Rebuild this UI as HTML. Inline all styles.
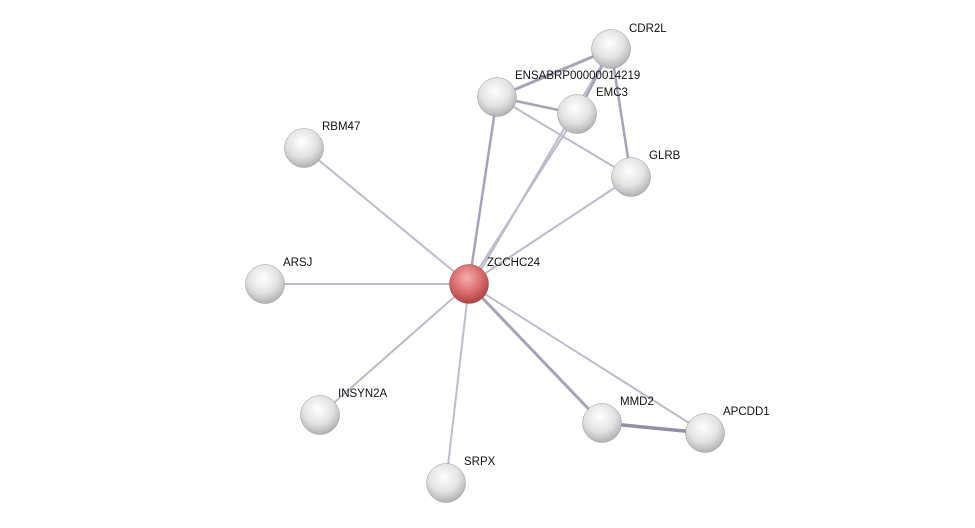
<!DOCTYPE html>
<html><head><meta charset="utf-8"><style>
html,body{margin:0;padding:0;background:#fff;}
svg{display:block}
text{font-family:"Liberation Sans",sans-serif;font-size:11.5px;fill:#111;}
</style></head><body>
<svg width="975" height="528" viewBox="0 0 975 528">
<defs>
<radialGradient id="g" cx="0.45" cy="0.35" r="0.7">
<stop offset="0" stop-color="#ffffff"/><stop offset="0.55" stop-color="#e2e2e2"/><stop offset="1" stop-color="#a8a8a8"/>
</radialGradient>
<radialGradient id="r" cx="0.45" cy="0.35" r="0.7">
<stop offset="0" stop-color="#f4b0b0"/><stop offset="0.55" stop-color="#d96a6a"/><stop offset="1" stop-color="#a53a3a"/>
</radialGradient>
</defs>
<g stroke="#bcbcca" stroke-width="2" fill="none">
<line x1="469" y1="284" x2="304" y2="148"/>
<line x1="469" y1="284" x2="265" y2="284"/>
<line x1="469" y1="284" x2="320" y2="415"/>
<line x1="469" y1="284" x2="446" y2="483"/>
<line x1="469" y1="284" x2="705" y2="433"/>
<line x1="469" y1="284" x2="631" y2="177"/>
<line x1="469" y1="284" x2="577" y2="114"/>
<line x1="472" y1="285" x2="611" y2="49"/>
<line x1="469" y1="284" x2="602" y2="423" stroke="#a4a4b8" stroke-width="3"/>
<line x1="469" y1="284" x2="497" y2="97" stroke="#a4a4b8" stroke-width="2.5"/>
<line x1="497" y1="97" x2="611" y2="49" stroke="#a4a4b8" stroke-width="3"/>
<line x1="497" y1="97" x2="577" y2="114" stroke="#a4a4b8" stroke-width="2.5"/>
<line x1="497" y1="97" x2="631" y2="177"/>
<line x1="611" y1="49" x2="631" y2="177" stroke="#a4a4b8" stroke-width="2.5"/>
<line x1="611" y1="49" x2="577" y2="114" stroke="#a4a4b8" stroke-width="2.5"/>
<line x1="602" y1="423" x2="705" y2="433" stroke="#9090a8" stroke-width="3.5"/>
</g>
<g>
<circle cx="611" cy="49" r="19.5" fill="url(#g)" stroke="#999" stroke-width="0.5"/>
<circle cx="497" cy="97" r="19.5" fill="url(#g)" stroke="#999" stroke-width="0.5"/>
<circle cx="577" cy="114" r="19.5" fill="url(#g)" stroke="#999" stroke-width="0.5"/>
<circle cx="631" cy="177" r="19.5" fill="url(#g)" stroke="#999" stroke-width="0.5"/>
<circle cx="304" cy="148" r="19.5" fill="url(#g)" stroke="#999" stroke-width="0.5"/>
<circle cx="265" cy="284" r="19.5" fill="url(#g)" stroke="#999" stroke-width="0.5"/>
<circle cx="320" cy="415" r="19.5" fill="url(#g)" stroke="#999" stroke-width="0.5"/>
<circle cx="446" cy="483" r="19.5" fill="url(#g)" stroke="#999" stroke-width="0.5"/>
<circle cx="602" cy="423" r="19.5" fill="url(#g)" stroke="#999" stroke-width="0.5"/>
<circle cx="705" cy="433" r="19.5" fill="url(#g)" stroke="#999" stroke-width="0.5"/>
<circle cx="469" cy="284" r="19.5" fill="url(#r)" stroke="#944" stroke-width="0.5"/>
</g>
<text x="629" y="32">CDR2L</text>
<text x="515" y="79">ENSABRP00000014219</text>
<text x="596" y="96">EMC3</text>
<text x="649" y="159">GLRB</text>
<text x="322" y="130">RBM47</text>
<text x="283" y="266">ARSJ</text>
<text x="487" y="266">ZCCHC24</text>
<text x="338" y="397">INSYN2A</text>
<text x="464" y="465">SRPX</text>
<text x="620" y="405">MMD2</text>
<text x="723" y="415">APCDD1</text>
</svg>
</body></html>
